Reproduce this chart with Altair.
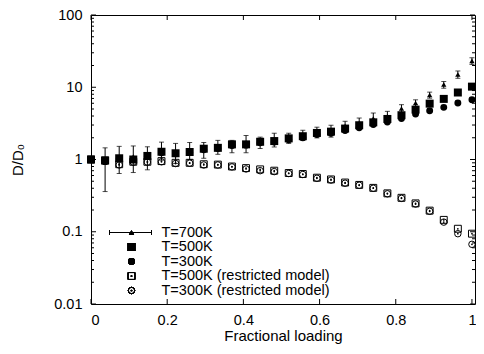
import altair as alt
import pandas as pd

# ---- data ----
loading = [0.0, 0.037, 0.074, 0.111, 0.148, 0.185, 0.222, 0.259, 0.296, 0.333,
           0.370, 0.407, 0.444, 0.481, 0.519, 0.556, 0.593, 0.630, 0.667, 0.704,
           0.741, 0.778, 0.815, 0.852, 0.889, 0.926, 0.963, 1.0]
t700 = [1.0, 0.9, 1.08, 1.1, 1.11, 1.36, 1.27, 1.36, 1.38, 1.51,
        1.54, 1.7, 1.73, 1.9, 1.99, 2.19, 2.4, 2.5, 2.9, 3.2,
        3.7, 3.95, 5.07, 6.05, 7.8, 10.9, 15.0, 23.2]
t700_lo = [0.94, 0.36, 0.64, 0.66, 0.72, 0.98, 0.88, 1.0, 1.04, 1.18,
           1.24, 1.24, 1.42, 1.49, 1.67, 1.84, 1.99, 2.04, 2.46, 2.68,
           3.06, 3.28, 4.4, 5.43, 7.06, 9.7, 13.3, 20.7]
t700_hi = [1.06, 1.45, 1.52, 1.54, 1.5, 1.74, 1.67, 1.72, 1.72, 1.84,
           1.84, 2.15, 2.04, 2.31, 2.31, 2.54, 2.8, 2.98, 3.38, 3.75,
           4.4, 4.64, 5.74, 6.7, 8.56, 12.0, 16.8, 25.6]
t500 = [1.0, 0.97, 1.04, 1.0, 1.12, 1.28, 1.22, 1.27, 1.41, 1.45,
        1.62, 1.62, 1.76, 1.8, 1.96, 2.1, 2.33, 2.43, 2.68, 2.98,
        3.27, 3.64, 4.1, 4.9, 5.93, 6.9, 8.46, 10.2]
t300 = [1.0, 0.97, 1.02, 1.0, 1.1, 1.24, 1.2, 1.25, 1.36, 1.42,
        1.56, 1.58, 1.7, 1.74, 1.88, 2.0, 2.22, 2.3, 2.52, 2.75,
        3.05, 3.3, 3.68, 4.26, 4.74, 5.27, 6.05, 6.7]
t500_r = [1.0, 0.97, 0.86, 0.93, 0.93, 0.95, 0.9, 0.9, 0.86, 0.85,
          0.8, 0.76, 0.73, 0.7, 0.65, 0.63, 0.56, 0.53, 0.48, 0.445,
          0.405, 0.34, 0.295, 0.247, 0.196, 0.146, 0.11, 0.094]
t300_r = [1.0, 0.96, 0.84, 0.92, 0.92, 0.93, 0.88, 0.89, 0.84, 0.84,
          0.79, 0.74, 0.70, 0.68, 0.64, 0.62, 0.55, 0.52, 0.47, 0.44,
          0.40, 0.335, 0.29, 0.242, 0.192, 0.136, 0.094, 0.067]
legend_labels = ["T=700K", "T=500K", "T=300K",
                 "T=500K (restricted model)", "T=300K (restricted model)"]
x_ticks = [0, 0.2, 0.4, 0.6, 0.8, 1.0]
y_major = [0.01, 0.1, 1, 10, 100]
y_minor = [m * 10.0 ** e for e in range(-2, 2) for m in range(2, 10)]

W, H = 384, 289
FONT = "Liberation Sans"

df = pd.DataFrame({"loading": loading, "t700": t700, "lo": t700_lo, "hi": t700_hi,
                   "t500": t500, "t300": t300, "t500r": t500_r, "t300r": t300_r})

xscale = alt.Scale(domain=[0, 1.008], nice=False, zero=False)
yscale = alt.Scale(type="log", domain=[0.01, 100], nice=False)
xaxis = alt.Axis(values=x_ticks, format="~g", ticks=False, domain=False, grid=False,
                 labelFontSize=14.5, labelPadding=9, labelFont=FONT,
                 title="Fractional loading", titleFont=FONT, titleFontSize=15,
                 titleFontWeight="normal", titlePadding=2, labelColor="black",
                 titleColor="black")
yaxis = alt.Axis(values=y_major, format="~g", ticks=False, domain=False, grid=False,
                 labelFontSize=14.5, labelPadding=9, labelFont=FONT,
                 title="D/D₀", titleFont=FONT, titleFontSize=15,
                 titleFontWeight="normal", titlePadding=28, labelColor="black",
                 titleColor="black")


def X(field):
    return alt.X(f"{field}:Q", scale=xscale, axis=xaxis, title="Fractional loading")


def Y(field):
    return alt.Y(f"{field}:Q", scale=yscale, axis=yaxis, title="D/D₀")


base = alt.Chart(df)
layers = []

# error bars for T=700K
layers.append(base.mark_rule(color="black", strokeWidth=1).encode(
    x=X("loading"), y=Y("lo"), y2="hi"))
layers.append(base.mark_tick(color="black", orient="horizontal", size=5, thickness=1).encode(
    x=X("loading"), y=Y("lo")))
layers.append(base.mark_tick(color="black", orient="horizontal", size=5, thickness=1).encode(
    x=X("loading"), y=Y("hi")))
layers.append(base.mark_point(shape="triangle-up", filled=True, color="black", size=28, opacity=1).encode(
    x=X("loading"), y=Y("t700")))
layers.append(base.mark_point(shape="square", filled=True, color="black", size=64, opacity=1).encode(
    x=X("loading"), y=Y("t500")))
layers.append(base.mark_point(shape="circle", filled=True, color="black", size=48, opacity=1).encode(
    x=X("loading"), y=Y("t300")))
layers.append(base.mark_point(shape="square", filled=False, color="black", size=48, strokeWidth=1, opacity=1).encode(
    x=X("loading"), y=Y("t500r")))
layers.append(base.mark_point(shape="circle", filled=True, color="black", size=3, opacity=1).encode(
    x=X("loading"), y=Y("t500r")))
layers.append(base.mark_point(shape="circle", filled=False, color="black", size=42, strokeWidth=1, opacity=1).encode(
    x=X("loading"), y=Y("t300r")))
layers.append(base.mark_point(shape="circle", filled=True, color="black", size=3, opacity=1).encode(
    x=X("loading"), y=Y("t300r")))

# inward ticks (gnuplot style, mirrored)
dfx = pd.DataFrame({"loading": x_ticks})
dfy = pd.DataFrame({"v": y_major})
dfym = pd.DataFrame({"v": y_minor})
tick = dict(color="black", strokeWidth=1)
layers.append(alt.Chart(dfx).mark_rule(**tick).encode(x=X("loading"), y=alt.value(H), y2=alt.value(H - 5)))
layers.append(alt.Chart(dfx).mark_rule(**tick).encode(x=X("loading"), y=alt.value(0), y2=alt.value(5)))
layers.append(alt.Chart(dfy).mark_rule(**tick).encode(y=Y("v"), x=alt.value(0), x2=alt.value(5)))
layers.append(alt.Chart(dfy).mark_rule(**tick).encode(y=Y("v"), x=alt.value(W - 5), x2=alt.value(W)))
layers.append(alt.Chart(dfym).mark_rule(**tick).encode(y=Y("v"), x=alt.value(0), x2=alt.value(3)))
layers.append(alt.Chart(dfym).mark_rule(**tick).encode(y=Y("v"), x=alt.value(W - 3), x2=alt.value(W)))

# legend (inside, bottom-left)
leg = alt.Chart(pd.DataFrame({"label": legend_labels}))
row_y0, row_dy = 217.5, 14.5
sym_x, txt_x = 40.5, 70.5
for i, lab in enumerate(legend_labels):
    yy = row_y0 + row_dy * i
    layers.append(alt.Chart(pd.DataFrame({"label": [lab]})).mark_text(
        align="left", baseline="middle", font=FONT, fontSize=14.5, color="black").encode(
        x=alt.value(txt_x), y=alt.value(yy), text="label:N"))
ly = row_y0
layers.append(leg.mark_rule(color="black", strokeWidth=1).encode(
    x=alt.value(18.5), x2=alt.value(60.5), y=alt.value(ly)))
layers.append(leg.mark_rule(color="black", strokeWidth=1).encode(
    x=alt.value(18.5), y=alt.value(ly - 2.5), y2=alt.value(ly + 2.5)))
layers.append(leg.mark_rule(color="black", strokeWidth=1).encode(
    x=alt.value(60.5), y=alt.value(ly - 2.5), y2=alt.value(ly + 2.5)))
layers.append(leg.mark_point(shape="triangle-up", filled=True, color="black", size=28, opacity=1).encode(
    x=alt.value(sym_x), y=alt.value(ly)))
layers.append(leg.mark_point(shape="square", filled=True, color="black", size=64, opacity=1).encode(
    x=alt.value(sym_x), y=alt.value(row_y0 + row_dy)))
layers.append(leg.mark_point(shape="circle", filled=True, color="black", size=48, opacity=1).encode(
    x=alt.value(sym_x), y=alt.value(row_y0 + 2 * row_dy)))
layers.append(leg.mark_point(shape="square", filled=False, color="black", size=48, strokeWidth=1, opacity=1).encode(
    x=alt.value(sym_x), y=alt.value(row_y0 + 3 * row_dy)))
layers.append(leg.mark_point(shape="circle", filled=True, color="black", size=3, opacity=1).encode(
    x=alt.value(sym_x), y=alt.value(row_y0 + 3 * row_dy)))
layers.append(leg.mark_point(shape="circle", filled=False, color="black", size=42, strokeWidth=1, opacity=1).encode(
    x=alt.value(sym_x), y=alt.value(row_y0 + 4 * row_dy)))
layers.append(leg.mark_point(shape="circle", filled=True, color="black", size=3, opacity=1).encode(
    x=alt.value(sym_x), y=alt.value(row_y0 + 4 * row_dy)))

chart = alt.layer(*layers).properties(
    width=W, height=H,
    autosize=alt.AutoSizeParams(type="none"),
    padding={"left": 83, "top": 7, "right": 1, "bottom": 42},
    background="white",
).configure_view(stroke="black", strokeWidth=1)

chart.save("out.html", embed_options={"renderer": "svg", "actions": False})
